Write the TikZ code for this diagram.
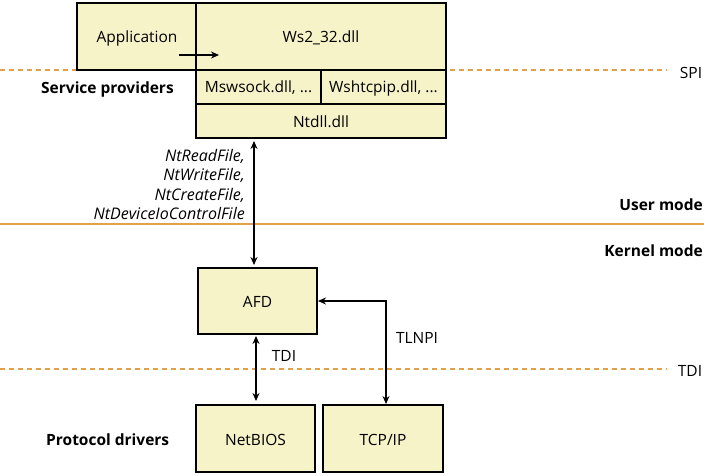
\documentclass[tikz,border=0pt]{standalone}
\usepackage{fontspec}
\setmainfont{Open Sans}
\usetikzlibrary{arrows.meta}
\definecolor{boxfill}{HTML}{F6F3C9}
\definecolor{lineor}{HTML}{E3A048}
\begin{document}
\begin{tikzpicture}[x=1pt,y=-1pt,
  box/.style={draw=black,line width=2.4pt,fill=boxfill,inner sep=0pt},
  txt/.style={font=\fontsize{15.5}{17}\selectfont,inner sep=0pt},
  lbl/.style={font=\fontsize{15.5}{17}\selectfont\bfseries,inner sep=0pt},
  tip/.tip={Stealth[length=8pt,width=7pt]},
  conn/.style={line width=2pt,-tip},
  biconn/.style={line width=2pt,tip-tip},
  sepdash/.style={lineor,line width=2.4pt,dash pattern=on 5pt off 4pt},
  sepsolid/.style={lineor,line width=2pt}]
\useasboundingbox (0,0) rectangle (710,476);
% separator lines
\draw[sepdash] (0,70) -- (667,70);
\draw[sepsolid] (0,224) -- (704,224);
\draw[sepdash] (0,369) -- (667,369);
% boxes
\node[box,minimum width=119pt,minimum height=67pt] (app) at (136.5,36.5) {};
\node[txt] at (137,38) {Application};
\node[box,minimum width=250pt,minimum height=67pt] (ws) at (321,36.5) {};
\node[txt] at (321,38) {Ws2\_32.dll};
\node[box,minimum width=125pt,minimum height=34pt] (msw) at (258.5,87) {};
\node[txt] at (258.5,88) {Mswsock.dll, ...};
\node[box,minimum width=125pt,minimum height=34pt] (wsh) at (383.5,87) {};
\node[txt] at (383.5,88) {Wshtcpip.dll, ...};
\node[box,minimum width=250pt,minimum height=34pt] (ntdll) at (321,121) {};
\node[txt] at (321,122) {Ntdll.dll};
\node[box,minimum width=119pt,minimum height=66pt] (afd) at (257.5,301) {};
\node[txt] at (257.5,302) {AFD};
\node[box,minimum width=119pt,minimum height=67pt] (nb) at (255.5,438.5) {};
\node[txt] at (255.5,440) {NetBIOS};
\node[box,minimum width=120pt,minimum height=67pt] (tcp) at (383,438.5) {};
\node[txt] at (383,440) {TCP/IP};
% application arrow
\coordinate (appa) at (179,55);
\coordinate (appb) at (219,55);
\draw[conn] (appa) -- (appb);
% Ntdll <-> AFD
\coordinate (n1) at (254,141);
\coordinate (n2) at (254,265);
\draw[biconn] (n1) -- (n2);
% AFD <-> NetBIOS (TDI)
\coordinate (t1) at (256,336);
\coordinate (t2) at (256,401);
\draw[biconn] (t1) -- (t2);
% TLNPI
\coordinate (c1) at (386,301);
\coordinate (c2) at (386,404);
\coordinate (c3) at (318,301);
\draw[biconn] (c3) -- (c1) -- (c2);
% labels
\node[lbl,anchor=west] at (41,89) {Service providers};
\node[lbl,anchor=west] at (46,440) {Protocol drivers};
\node[lbl,anchor=east] at (703,205) {User mode};
\node[lbl,anchor=east] at (703,251) {Kernel mode};
\node[txt] at (691,73) {SPI};
\node[txt] at (690,371) {TDI};
\node[txt] at (284,356) {TDI};
\node[txt] at (417,338) {TLNPI};
\node[txt,anchor=east,align=right,font=\fontsize{16}{19.3}\selectfont\itshape] at (245,184.5) {NtReadFile,\\NtWriteFile,\\NtCreateFile,\\NtDeviceIoControlFile};
\end{tikzpicture}
\end{document}
